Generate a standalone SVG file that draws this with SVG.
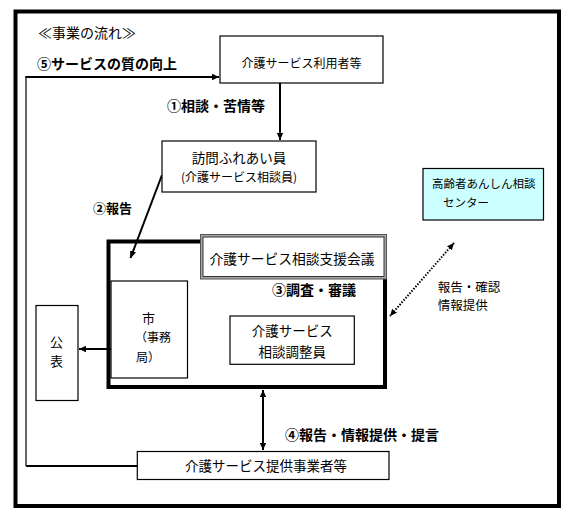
<svg xmlns="http://www.w3.org/2000/svg" width="574" height="515" viewBox="0 0 574 515">
<style>
text{font-family:"Noto Sans CJK JP","Noto Sans",sans-serif;fill:#000}
.b{font-weight:bold;font-size:14px}
.n{font-size:13.5px}
.box{fill:#fff;stroke:#000;stroke-width:1.2}
.c{stroke:#000;fill:none;stroke-width:2}
</style>
<defs>
<marker id="ah" markerUnits="userSpaceOnUse" markerWidth="8" markerHeight="8" refX="7" refY="4" orient="auto-start-reverse">
<path d="M0,0.8 L7,4 L0,7.2 z" fill="#000"/>
</marker>
</defs>
<rect id="frame" x="15.5" y="11.5" width="543.5" height="494.5" fill="#fff" stroke="#000" stroke-width="4"/>
<text x="38" y="38" style="font-size:14px">≪事業の流れ≫</text>
<g id="connectors">
<path class="c" d="M137,466 H26"/>
<path class="c" d="M26,466 V77" style="stroke:#333;stroke-width:1.5"/>
<path class="c" d="M25.3,77 H219" marker-end="url(#ah)"/>
<path class="c" d="M280,83 V140" marker-end="url(#ah)"/>
<path class="c" d="M162,175 L130.5,258" marker-end="url(#ah)"/>
<path class="c" d="M111,349 H79" marker-end="url(#ah)"/>
<path class="c" d="M263,390 V450" marker-start="url(#ah)" marker-end="url(#ah)"/>
<path class="c" d="M454,243 L390,316" stroke-dasharray="1.5 1.5" marker-start="url(#ah)" marker-end="url(#ah)"/>
</g>
<text class="b" x="37" y="69">⑤サービスの質の向上</text>
<text class="b" x="167" y="111">①相談・苦情等</text>
<text class="b" x="93" y="213" style="font-size:13px">②報告</text>
<text class="b" x="272" y="295">③調査・審議</text>
<text class="b" x="285" y="439.5">④報告・情報提供・提言</text>
<text x="437.7" y="292" style="font-size:12.5px">報告・確認</text>
<text x="437.7" y="310" style="font-size:12.5px">情報提供</text>
<g id="user">
<rect class="box" x="220" y="36" width="163" height="47"/>
<text x="301.5" y="67.5" text-anchor="middle" style="font-size:12px">介護サービス利用者等</text>
</g>
<g id="visitor">
<rect class="box" x="162" y="141" width="154" height="51"/>
<text x="239" y="162.5" text-anchor="middle" class="n">訪問ふれあい員</text>
<text x="239" y="182" text-anchor="middle" style="font-size:12px">(介護サービス相談員)</text>
</g>
<g id="center">
<rect x="423" y="168.5" width="120.5" height="51.5" fill="#ccffff" stroke="#000" stroke-width="1.2"/>
<text x="432" y="187.5" style="font-size:11.5px">高齢者あんしん相談</text>
<text x="443" y="207" style="font-size:11.5px">センター</text>
</g>
<g id="council">
<rect x="108.5" y="241.5" width="276.5" height="145.5" fill="none" stroke="#000" stroke-width="4"/>
<rect x="200.5" y="234.5" width="186" height="44.5" fill="#a6a6a6" stroke="#555" stroke-width="1"/>
<rect x="203" y="237" width="181" height="39.5" fill="#fff" stroke="#333" stroke-width="1"/>
<text x="292" y="264" text-anchor="middle" style="font-size:13.75px">介護サービス相談支援会議</text>
</g>
<g id="city">
<rect class="box" x="111" y="281" width="76.5" height="97"/>
<text x="142" y="322.5" style="font-size:13px">市</text>
<text x="135" y="342" style="font-size:12px">（事務</text>
<text x="136" y="362" style="font-size:12px">局）</text>
</g>
<g id="coordinator">
<rect class="box" x="230" y="316" width="124.3" height="48.3"/>
<text x="292.3" y="336" text-anchor="middle" class="n">介護サービス</text>
<text x="292.3" y="357" text-anchor="middle" class="n">相談調整員</text>
</g>
<g id="publish">
<rect class="box" x="36" y="305.5" width="42" height="95"/>
<text x="56.5" y="347" text-anchor="middle" style="font-size:13px">公</text>
<text x="56.5" y="366" text-anchor="middle" style="font-size:13px">表</text>
</g>
<g id="provider">
<rect class="box" x="137.3" y="451.5" width="251.7" height="28"/>
<text x="266" y="471" text-anchor="middle" class="n">介護サービス提供事業者等</text>
</g>
</svg>
